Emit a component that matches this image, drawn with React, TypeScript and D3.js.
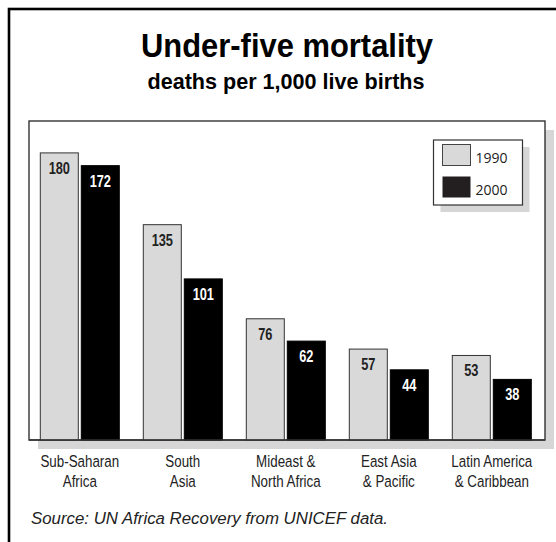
import * as React from 'react';
import * as d3 from 'd3';
import {useEffect, useRef} from 'react';

const categories = ['Sub-Saharan Africa', 'South Asia', 'Mideast & North Africa', 'East Asia & Pacific', 'Latin America & Caribbean'];
const categoryLines = [['Sub-Saharan', 'Africa'], ['South', 'Asia'], ['Mideast &', 'North Africa'], ['East Asia', '& Pacific'], ['Latin America', '& Caribbean']];
const years = ['1990', '2000'];
const values1990 = [180, 135, 76, 57, 53];
const values2000 = [172, 101, 62, 44, 38];
const yDomain = [0, 200];

const WIDTH = 556;
const HEIGHT = 542;
const plot = {left: 29, top: 121, right: 545, bottom: 440};
// no condensed face installed, so regular faces get squeezed horizontally
const sans = '"Liberation Sans", Arial, sans-serif';
const lightFill = '#d9d9d9';
const shadowFill = '#d6d6d6';

function appendNarrowText(parent: any, x: number, y: number, text: string, size: number, weight: string, fill: string, sx: number) {
    return parent.append('text')
        .attr('transform', `translate(${x} ${y}) scale(${sx} 1)`)
        .attr('text-anchor', 'middle')
        .attr('font-family', sans).attr('font-weight', weight).attr('font-size', size)
        .attr('fill', fill)
        .text(text);
}

function appendFrame(svg: any) {
    svg.append('rect')
        .attr('x', 0).attr('y', 0).attr('width', WIDTH).attr('height', HEIGHT)
        .attr('fill', '#fff');
    svg.append('rect')
        .attr('x', 9).attr('y', 9).attr('width', WIDTH + 20).attr('height', HEIGHT + 20)
        .attr('fill', 'none').attr('stroke', '#000').attr('stroke-width', 2.6);
}

function appendTitles(svg: any) {
    svg.append('text')
        .attr('x', 287).attr('y', 57)
        .attr('text-anchor', 'middle')
        .attr('font-family', sans).attr('font-weight', 'bold').attr('font-size', 34)
        .attr('textLength', 292).attr('lengthAdjust', 'spacingAndGlyphs')
        .text('Under-five mortality');
    svg.append('text')
        .attr('x', 286).attr('y', 89)
        .attr('text-anchor', 'middle')
        .attr('font-family', sans).attr('font-weight', 'bold').attr('font-size', 21.5)
        .attr('textLength', 277).attr('lengthAdjust', 'spacingAndGlyphs')
        .text('deaths per 1,000 live births');
}

function appendPlotBox(svg: any) {
    const w = plot.right - plot.left;
    const h = plot.bottom - plot.top;
    svg.append('rect')
        .attr('x', plot.left + 9).attr('y', plot.top + 9).attr('width', w).attr('height', h)
        .attr('fill', shadowFill);
    svg.append('rect')
        .attr('x', plot.left).attr('y', plot.top).attr('width', w).attr('height', h)
        .attr('fill', '#fff').attr('stroke', '#333').attr('stroke-width', 1.4);
}

function appendBars(svg: any, x0: any, x1: any, y: any) {
    const series = [values1990, values2000];
    const g = svg.append('g');
    categories.forEach((cat, i) => {
        years.forEach((yr, j) => {
            const v = series[j][i];
            const bx = x0(cat) + x1(yr);
            const dark = j === 1;
            g.append('rect')
                .attr('x', bx).attr('y', y(v))
                .attr('width', x1.bandwidth()).attr('height', y(0) - y(v))
                .attr('fill', dark ? '#000' : lightFill)
                .attr('stroke', dark ? '#000' : '#333')
                .attr('stroke-width', 1);
            appendNarrowText(g, bx + x1.bandwidth() / 2, y(v) + 21, String(v), 16, 'bold', dark ? '#fff' : '#222', 0.8);
        });
    });
    // redraw the baseline over the bars
    svg.append('line')
        .attr('x1', plot.left).attr('x2', plot.right)
        .attr('y1', plot.bottom).attr('y2', plot.bottom)
        .attr('stroke', '#333').attr('stroke-width', 1.4);
}

function appendCategoryLabels(svg: any, x0: any) {
    categories.forEach((cat, i) => {
        categoryLines[i].forEach((line, k) => {
            appendNarrowText(svg, x0(cat) + x0.bandwidth() / 2, 467 + k * 20, line, 16.5, 'normal', '#222', 0.81);
        });
    });
}

function appendLegend(svg: any) {
    const lx = 433.5, ly = 140, lw = 89, lh = 65;
    svg.append('rect')
        .attr('x', lx + 7).attr('y', ly + 7).attr('width', lw).attr('height', lh)
        .attr('fill', shadowFill);
    svg.append('rect')
        .attr('x', lx).attr('y', ly).attr('width', lw).attr('height', lh)
        .attr('fill', '#fff').attr('stroke', '#333').attr('stroke-width', 1.2);
    years.forEach((yr, j) => {
        const sy = ly + 4.5 + j * 32;
        svg.append('rect')
            .attr('x', lx + 9).attr('y', sy).attr('width', 28).attr('height', 21)
            .attr('fill', j === 0 ? lightFill : '#231f20')
            .attr('stroke', j === 0 ? '#444' : 'none')
            .attr('stroke-width', 1);
        svg.append('text')
            .attr('x', lx + 42).attr('y', sy + 18)
            .attr('font-family', '"Open Sans", "Noto Sans", sans-serif').attr('font-size', 14)
            .attr('fill', '#222')
            .text(yr);
    });
}

function appendSource(svg: any) {
    svg.append('text')
        .attr('x', 31).attr('y', 524)
        .attr('font-family', sans)
        .attr('font-style', 'italic').attr('font-size', 16.3)
        .attr('textLength', 357).attr('lengthAdjust', 'spacingAndGlyphs')
        .attr('fill', '#222')
        .text('Source: UN Africa Recovery from UNICEF data.');
}

export default function App() {
    const svgRef = useRef<SVGSVGElement>(null);

    useEffect(() => {
        const svg = d3.select(svgRef.current);
        svg.selectAll('*').remove();

        const x0 = d3.scaleBand()
            .domain(categories)
            .range([28.3, 543.3])
            .paddingInner(0.233)
            .paddingOuter(0.1165);
        const x1 = d3.scaleBand()
            .domain(years)
            .range([0, x0.bandwidth()])
            .paddingInner(0.073);
        const y = d3.scaleLinear().domain(yDomain).range([plot.bottom, plot.top]);

        appendFrame(svg);
        appendTitles(svg);
        appendPlotBox(svg);
        appendBars(svg, x0, x1, y);
        appendLegend(svg);
        appendCategoryLabels(svg, x0);
        appendSource(svg);
    }, []);

    return (
        <svg ref={svgRef} width={WIDTH} height={HEIGHT} viewBox={`0 0 ${WIDTH} ${HEIGHT}`}
             style={{position: 'absolute', left: 0, top: 0}}/>
    );
}
